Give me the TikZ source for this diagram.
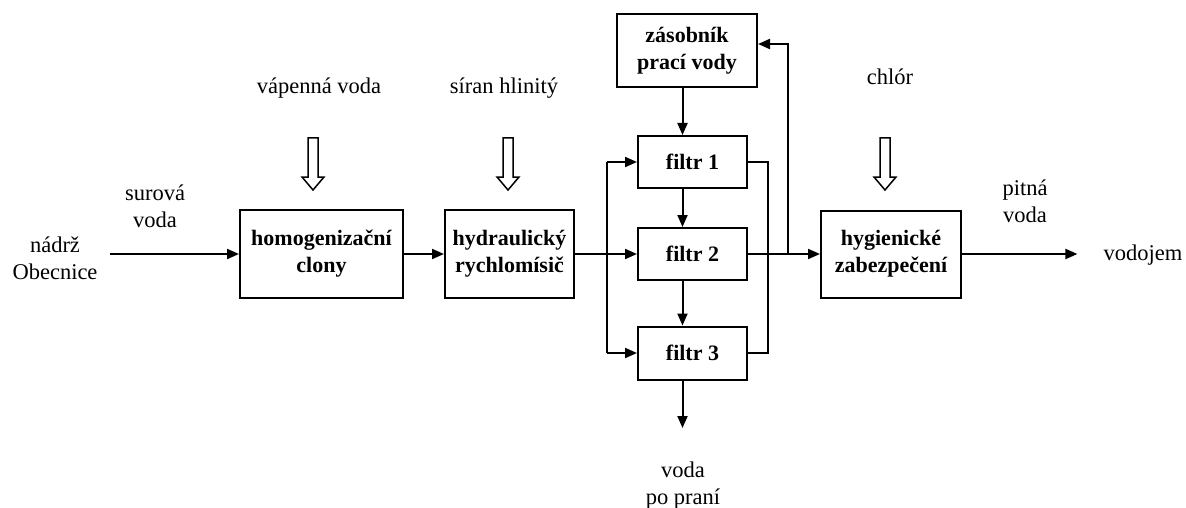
\documentclass[tikz,border=0pt]{standalone}
\usepackage{fontspec}
\setmainfont{Liberation Serif}
\usetikzlibrary{arrows.meta,calc}
\begin{document}
\begin{tikzpicture}[x=1pt,y=-1pt,
  every node/.style={font=\fontsize{22.5}{27}\selectfont},
  box/.style={draw,line width=2pt,align=center,inner sep=0pt,font=\fontsize{22}{27}\selectfont\bfseries},
  lbl/.style={align=center,inner sep=0pt},
  ln/.style={line width=2pt},
  arr/.style={line width=2pt,-{Triangle[length=12pt,width=10pt]}},
  hollowarr/.pic={\draw[line width=1.5pt,line join=miter] (-5,0) -- (-5,39) -- (-11,39) -- (0,52) -- (11,39) -- (5,39) -- (5,0) -- cycle;}
]
\useasboundingbox (0,0) rectangle (1186,508);
% boxes
\node[box,minimum width=163pt,minimum height=88pt] (hom) at (321.5,254) {homogenizační\\clony};
\node[box,minimum width=129pt,minimum height=88pt] (hyd) at (509.5,254) {hydraulický\\rychlomísič};
\node[box,minimum width=140pt,minimum height=73pt] (zas) at (687,50.5) {zásobník\\prací vody};
\node[box,minimum width=109pt,minimum height=52pt] (f1) at (692.5,162) {filtr 1};
\node[box,minimum width=109pt,minimum height=52pt] (f2) at (692.5,254) {filtr 2};
\node[box,minimum width=109pt,minimum height=53pt] (f3) at (692.5,353) {filtr 3};
\node[box,minimum width=140pt,minimum height=87pt] (hyg) at (891,254) {hygienické\\zabezpečení};
% labels
\node[lbl] (nad) at (55,258) {nádrž\\Obecnice};
\node[lbl] (sur) at (155,206) {surová\\voda};
\node[lbl] (vap) at (319,88) {vápenná voda};
\node[lbl] (sir) at (504,88) {síran hlinitý};
\node[lbl] (chl) at (890,77) {chlór};
\node[lbl] (pit) at (1025,201) {pitná\\voda};
\node[lbl] (vod) at (1143,255) {vodojem};
\node[lbl] (vpp) at (683,486) {voda\\po praní};
% hollow arrows
\pic at (313,138) {hollowarr};
\pic at (508,138) {hollowarr};
\pic at (885,138) {hollowarr};
% coordinates
\coordinate (bl) at (607,254);
\coordinate (br) at (768,254);
\coordinate (jn) at (788,254);
\coordinate (out3) at (682.5,428);
\coordinate (zin) at ([yshift=6.5pt]zas.east);
\coordinate (vin) at ([xshift=-26pt]vod.west);
% connectors
\draw[arr] ([xshift=12pt]nad.east |- hom.west) -- (hom.west);
\draw[arr] (hom.east) -- (hyd.west);
\draw[arr] (hyd.east) -- (f2.west);
\draw[ln] (bl |- f1.west) -- (bl |- f3.west);
\draw[arr] (bl |- f1.west) -- (f1.west);
\draw[arr] (bl |- f3.west) -- (f3.west);
\draw[ln] (f1.east) -- (f1.east -| br) -- (f3.east -| br) -- (f3.east);
\draw[arr] (f2.east) -- (hyg.west);
\draw[arr] (jn) |- (zin);
\draw[arr] ([xshift=-4.5pt]zas.south) -- ([xshift=-10pt]f1.north);
\draw[arr] ([xshift=-10pt]f1.south) -- ([xshift=-10pt]f2.north);
\draw[arr] ([xshift=-10pt]f2.south) -- ([xshift=-10pt]f3.north);
\draw[arr] ([xshift=-10pt]f3.south) -- (out3);
\draw[arr] (hyg.east) -- (hyg.east -| vin);
\end{tikzpicture}
\end{document}
